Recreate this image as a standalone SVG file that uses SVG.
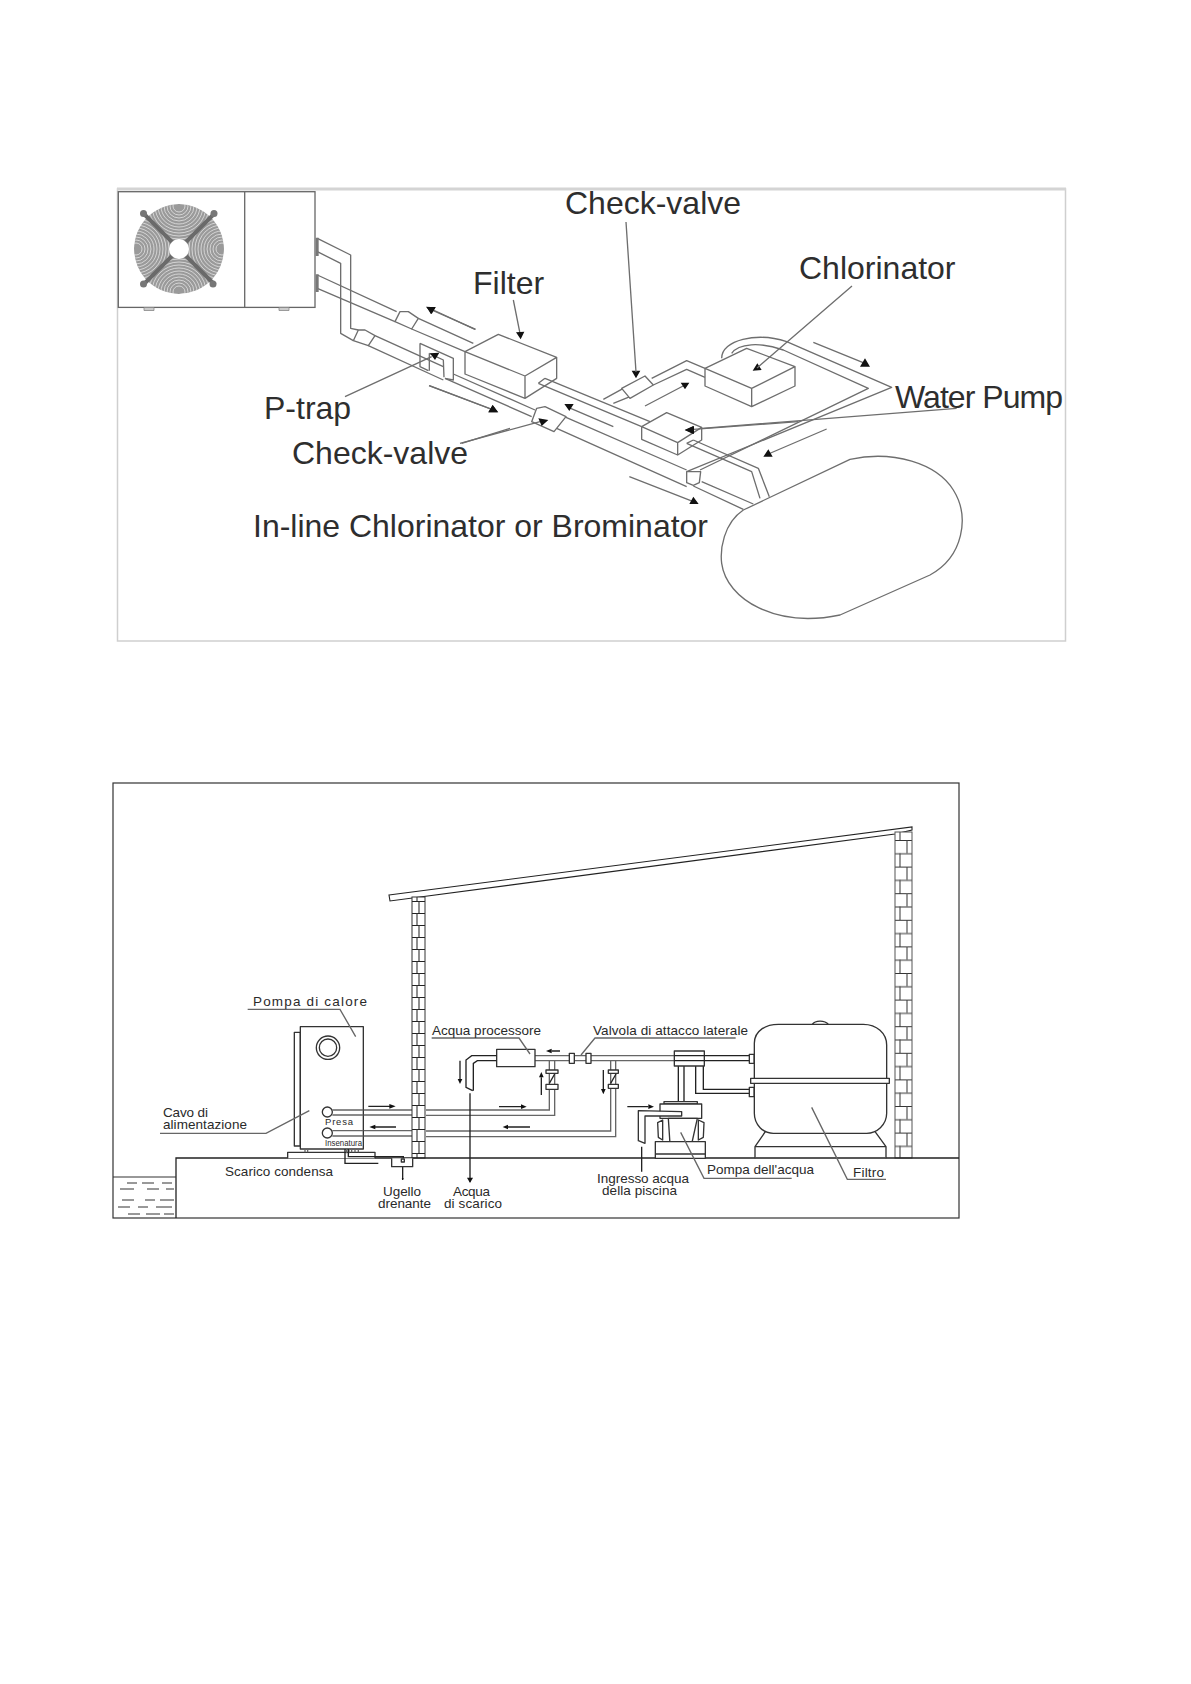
<svg xmlns="http://www.w3.org/2000/svg" width="1191" height="1684" viewBox="0 0 1191 1684">
<style>
.l{fill:none;stroke:#6e6e6e;stroke-width:4;stroke-linejoin:round}
.w{fill:#fff;stroke:#6e6e6e;stroke-width:4;stroke-linejoin:round}
.a{fill:#111;stroke:none}
.d{fill:none;stroke:#222;stroke-width:4}
.g{fill:none;stroke:#666;stroke-width:4}
.h{fill:#fff;stroke:#333;stroke-width:4;stroke-linejoin:round}
.t{font-family:"Liberation Sans",Arial,sans-serif;font-size:32px;fill:#2e2e2e}
.s{font-family:"Liberation Sans",Arial,sans-serif;font-size:13.5px;fill:#2a2a2a}
</style>
<defs>
<marker id="ah" markerWidth="8" markerHeight="8" refX="6" refY="3" orient="auto" markerUnits="userSpaceOnUse"><path d="M0,0L6,3L0,6Z" fill="#111"/></marker>
<pattern id="bl" patternUnits="userSpaceOnUse" x="412" y="901" width="13" height="24"><rect width="13" height="24" fill="#fff"/><path d="M0,.5H13M0,12.500H13" stroke="#222" stroke-width="1.100"/><path d="M7,0V12M5,12V24" stroke="#333" stroke-width="1.100"/></pattern>
<pattern id="br" patternUnits="userSpaceOnUse" x="895" y="840" width="17" height="26.600"><rect width="17" height="26.600" fill="#fff"/><path d="M0,.5H17M0,13.800H17" stroke="#333" stroke-width="1.100"/><path d="M12,0V13.300M5,13.300V26.600" stroke="#444" stroke-width="1.100"/></pattern>
<clipPath id="fc"><circle cx="179" cy="249" r="45"/></clipPath>
<clipPath id="wedge"><path d="M179,249L130,200H228Z"/></clipPath>
<g id="quad" clip-path="url(#wedge)" fill="none" stroke="#eee" stroke-width=".7"><circle cx="179" cy="206" r="6"/><circle cx="179" cy="206" r="9"/><circle cx="179" cy="206" r="12"/><circle cx="179" cy="206" r="15"/><circle cx="179" cy="206" r="18"/><circle cx="179" cy="206" r="21"/><circle cx="179" cy="206" r="24"/><circle cx="179" cy="206" r="27"/><circle cx="179" cy="206" r="30"/><circle cx="179" cy="206" r="33"/><circle cx="179" cy="206" r="36"/></g>
</defs>
<rect width="1191" height="1684" fill="#fff"/>

<g id="frame-top"><rect x="117.500" y="189" width="948" height="452" fill="#fff" stroke="#cfcfcf" stroke-width="1.500"/><path d="M117,189H1066" stroke="#d4d4d4" stroke-width="3"/></g>

<g id="heat-pump-unit">
<rect x="118.300" y="191.700" width="196.700" height="115.700" fill="#fff" stroke="#666" stroke-width="1.300"/>
<path d="M244.700,192V307" stroke="#666" stroke-width="1.300"/>
<path d="M144,307.500h10v3h-10zM279,307.500h10v3h-10z" fill="#ccc" stroke="#888" stroke-width=".8"/>
<g clip-path="url(#fc)"><circle cx="179" cy="249" r="45" fill="#9a9a9a"/><use href="#quad"/><use href="#quad" transform="rotate(90 179 249)"/><use href="#quad" transform="rotate(180 179 249)"/><use href="#quad" transform="rotate(270 179 249)"/></g>
<path d="M143,213L215,285M215,213L143,285" stroke="#6a6a6a" stroke-width="4"/>
<circle cx="143.500" cy="213.500" r="3.500" fill="#777"/><circle cx="214" cy="213.500" r="3.500" fill="#777"/><circle cx="143.500" cy="284" r="3.500" fill="#777"/><circle cx="213" cy="284" r="3.500" fill="#777"/>
<circle cx="179" cy="249" r="10" fill="#fff"/>
</g>

<g id="pipes-top">
<g transform="translate(110 180) scale(.33333)">
<path class="l" d="M622,175L722,225V445L745,450M622,215L692,250V460L730,482"/>
<path class="l" d="M622,285L860,395M622,325L855,425"/>
<path class="l" d="M925,415L1090,490M905,447L1065,515"/>
<path class="w" d="M855,425L870,395L895,395L925,415L905,447Z"/>
<path class="w" d="M730,482L745,450L765,450L795,467L775,497Z"/>
<path class="l" d="M795,467L1000,560M775,497L1000,600"/>
<path d="M617,173h9v55h-9zM617,283h9v53h-9z" fill="#777"/>
</g>
<g transform="translate(400 300) scale(.33333)">
<path class="l" d="M160,222L405,330M135,235L395,350"/>
<path class="l" d="M60,130L160,175V240L135,235M60,130V200L85,212M88,160L130,180L132,232M88,160V212"/>
<path class="l" d="M498,352L860,510M470,385L860,560"/>
<path class="w" d="M395,365L410,325L435,320L498,350L462,395Z"/>
<path class="l" d="M905,545L1060,612M880,558L1030,628"/>
<path class="l" d="M610,298L670,265M640,310L690,290M755,235L860,182L915,205M760,255L860,208L915,232"/>
<path class="w" d="M665,265L735,228L760,255L690,295Z"/>
</g>
</g>

<g id="filter" transform="translate(400 300) scale(.33333)"><path class="w" d="M195,155L295,103L470,172L375,228ZM195,155V222L375,295V228ZM470,172V235L375,295V228Z"/></g>
<g id="inline-chlorinator" transform="translate(400 300) scale(.33333)"><path class="w" d="M725,380L800,338L905,382L833,428ZM725,380V418L833,465V428ZM905,382V420L833,465V428Z"/></g>
<g id="chlorinator" transform="translate(400 300) scale(.33333)"><path class="w" d="M915,205L1040,145L1185,200L1055,265ZM915,205V258L1055,320V265ZM1185,200V258L1055,320V265Z"/></g>
<g id="pool" transform="translate(680 300) scale(.33333)"><path class="w" d="M190,630C130,670 120,750 125,790C140,900 290,985 480,945L750,825C850,770 870,650 820,570C770,490 640,450 510,478Z"/></g>

<g id="connectors-top">
<g transform="translate(400 300) scale(.33333)">
<path class="l" d="M435,235L750,365M415,250L725,380M415,250L435,235"/>
<path class="l" d="M860,430L1055,515L1080,595M880,420L1075,505L1108,590M860,430L880,420"/>
</g>
<g transform="translate(680 300) scale(.33333)">
<path class="l" d="M125,175C125,120 230,95 320,125L635,262L20,515"/>
<path class="l" d="M155,160C175,130 240,125 310,150L565,265L60,510"/>
<path class="w" d="M20,515L20,548L40,556L58,548L62,515Z"/>
</g>
<g transform="translate(110 180) scale(.33333)">
<path class="l" d="M705,650L965,530M958,617L1150,690M1095,448L970,390M1055,790L1200,745"/>
<path class="a" d="M950,381H977L963,403ZM960,520L988,518L975,540ZM1135,697H1165L1148,675Z"/>
</g>
<g transform="translate(400 300) scale(.33333)">
<path class="l" d="M180,430L420,365M340,0L360,100M227,88L95,30M87,257L280,330M640,380L505,322M735,318L855,255M1195,365L880,388M688,530L880,605"/>
<path class="a" d="M415,355L445,360L425,378ZM348,97L373,95L362,118ZM78,20L107,22L95,42ZM265,337H293L278,315ZM493,312H521L508,333ZM695,212H721L708,235ZM842,248H868L855,268ZM1058,212L1085,210L1072,190ZM855,390L882,378V402ZM868,612H896L880,590Z"/>
</g>
<g transform="translate(680 300) scale(.33333)">
<path class="l" d="M400,127L555,190M440,387L265,462M830,325L65,385"/>
<path class="a" d="M540,200H570L555,175ZM250,470H278L265,448ZM14,390L40,378V402Z"/>
</g>
<path d="M626,222L636,372M852,286L757,368" fill="none" stroke="#6e6e6e" stroke-width="1.330"/>
</g>

<g id="labels-top">
<text class="t" x="565" y="214">Check-valve</text>
<text class="t" x="799" y="279">Chlorinator</text>
<text class="t" x="473" y="294">Filter</text>
<text class="t" x="895" y="408" textLength="168">Water Pump</text>
<text class="t" x="264" y="419">P-trap</text>
<text class="t" x="292" y="464">Check-valve</text>
<text class="t" x="253" y="537" textLength="455" lengthAdjust="spacingAndGlyphs">In-line Chlorinator or Brominator</text>
</g>

<g id="frame-bottom"><rect x="113" y="783" width="846" height="435" fill="#fff" stroke="#333" stroke-width="1.200"/></g>

<g id="connectors-bottom">
<g transform="translate(110 980) scale(.33333)">
<path class="g" d="M667,390H907M667,405H907M667,452H907M667,468H907"/>
<path class="d" d="M878,560V600" marker-end="url(#ah)"/>
</g>
<g transform="translate(420 1000) scale(.33333)">
<path class="g" d="M18,330H388V182M18,346H404V182M18,393H572V182M18,410H587V182"/>
<path class="g" d="M345,167H763M345,182H763"/>
<path class="d" d="M150,280V545M665,440V515"/>
<path class="a" d="M141,533H159L150,549Z"/>
<path class="d" d="M420,153H395M364,285V232M120,182V238M550,210V268M237,320H305M330,381H262M622,320H685"/>
<path class="a" d="M378,153L395,146V160ZM364,216L357,232H371ZM120,252L113,237H127ZM550,283L543,267H557ZM320,320L303,313V327ZM248,381L264,374V388ZM702,320L685,313V327Z"/>
</g>
<g transform="translate(110 980) scale(.33333)"><path class="d" d="M775,379H840M858,441H795"/><path class="a" d="M857,379L838,372V386ZM778,441L796,434V448Z"/></g>
</g>

<g id="building">
<path d="M389,895L912,827V830L895,834L390,901Z" fill="#fff" stroke="#222" stroke-width="1.100"/>
<rect x="412" y="897" width="13" height="261" fill="url(#bl)" stroke="#333" stroke-width="1"/>
<rect x="895" y="832" width="17" height="326" fill="url(#br)" stroke="#555" stroke-width="1"/>
<path d="M176,1218V1158H959" fill="none" stroke="#222" stroke-width="1.300"/>
<path d="M113,1177H176" stroke="#333" stroke-width="1.100"/>
<path d="M127,1183h10M142,1183h12M162,1183h10M120,1189h14M147,1189h12M166,1189h8M122,1200h12M145,1200h10M160,1200h14M118,1207h12M138,1207h10M156,1207h16M128,1214h12M146,1214h14M164,1214h10" stroke="#333" stroke-width="1"/>
</g>

<g id="heat-pump" transform="translate(110 980) scale(.33333)">
<path class="h" d="M553,157H571V498H553Z"/>
<rect class="h" x="571" y="140" width="189" height="367"/>
<circle class="h" cx="654" cy="203" r="35"/><circle class="h" cx="654" cy="203" r="26"/>
<circle class="h" cx="652" cy="396" r="15"/><circle class="h" cx="652" cy="459" r="15"/>
<path class="g" d="M667,390H760M667,405H760M667,452H760M667,468H760"/>
<path class="h" d="M533,535V517H795V535"/>
<path class="g" d="M585,507V517M593,507V517M710,507V520M717,507V520M725,507V517M735,507V517M745,507V517"/>
<path class="d" d="M705,507V550H805M715,507V530H880V545"/>
<path class="h" d="M845,535V560H908V535"/>
<rect class="h" x="874" y="537" width="9" height="9"/>
</g>

<g id="water-processor" transform="translate(420 1000) scale(.33333)">
<rect class="h" x="230" y="148" width="115" height="52"/>
<path class="d" d="M230,167H155L138,180V262L158,272M230,182H172L160,190V272"/>
</g>
<g id="valves" transform="translate(420 1000) scale(.33333)">
<rect class="h" x="448" y="160" width="15" height="30"/><rect class="h" x="498" y="160" width="15" height="30"/>
<rect class="h" x="378" y="210" width="36" height="10"/><rect class="h" x="378" y="253" width="36" height="15"/><path class="d" d="M388,250L404,222"/>
<rect class="h" x="565" y="210" width="30" height="10"/><rect class="h" x="565" y="253" width="30" height="12"/><path class="d" d="M572,250L588,222"/>
</g>
<g id="water-pump" transform="translate(640 1000) scale(.33333)">
<path class="d" d="M115,198V305M132,198V305M167,198V280H328M190,198V268H328"/>
<rect class="h" x="103" y="153" width="90" height="45"/><path class="d" d="M103,167H193M103,182H193"/>
<path class="d" d="M193,167H328M193,182H328"/>
<path class="h" d="M72,305H172V312H72Z"/><rect class="h" x="60" y="312" width="125" height="43"/>
<path class="h" d="M85,355L90,432H155L172,355Z"/>
<path class="h" d="M53,368L68,360V420L55,412ZM192,368L175,360V420L190,412Z"/>
<path class="h" d="M46,475V425H196V475ZM46,462H196"/>
<path class="h" d="M-5,332V422L15,430V348H125V335Z"/>
</g>
<g id="filter-tank" transform="translate(640 1000) scale(.33333)">
<path class="h" d="M517,73C525,60 555,60 565,73"/>
<path class="h" d="M378,392L345,440V475M703,392L738,440V475M345,440H738"/>
<path class="h" d="M343,130C343,90 380,73 415,73H670C710,73 740,100 740,135V340C740,375 710,400 680,400H400C370,400 343,375 343,340Z"/>
<rect class="h" x="332" y="235" width="416" height="15"/>
<rect class="h" x="328" y="163" width="14" height="27"/><rect class="h" x="328" y="262" width="14" height="28"/>
</g>

<g id="leaders-bottom">
<g transform="translate(110 980) scale(.33333)"><path class="g" d="M413,88H690L737,170M150,460H468L598,392"/></g>
<g transform="translate(420 1000) scale(.33333)"><path class="g" d="M35,114H297L330,162M947,114H525L483,165"/></g>
<g transform="translate(640 1000) scale(.33333)"><path class="g" d="M122,397L192,535H455M515,322L622,538H738"/></g>
</g>

<g id="labels-bottom">
<text class="s" x="253" y="1006" textLength="114">Pompa di calore</text>
<text class="s" x="163" y="1117" textLength="45">Cavo di</text>
<text class="s" x="163" y="1129" textLength="84">alimentazione</text>
<text class="s" x="325" y="1125" style="font-size:9.500px" textLength="28">Presa</text>
<text class="s" x="325" y="1146" style="font-size:9px" textLength="37" lengthAdjust="spacingAndGlyphs">Insenatura</text>
<text class="s" x="225" y="1176" textLength="108">Scarico condensa</text>
<text class="s" x="383" y="1196" textLength="38">Ugello</text>
<text class="s" x="378" y="1208" textLength="53">drenante</text>
<text class="s" x="432" y="1035" textLength="109">Acqua processore</text>
<text class="s" x="593" y="1035" textLength="155">Valvola di attacco laterale</text>
<text class="s" x="453" y="1196" textLength="37">Acqua</text>
<text class="s" x="444" y="1208" textLength="58">di scarico</text>
<text class="s" x="597" y="1183" textLength="92">Ingresso acqua</text>
<text class="s" x="602" y="1195" textLength="75">della piscina</text>
<text class="s" x="707" y="1174" textLength="107">Pompa dell'acqua</text>
<text class="s" x="853" y="1177" textLength="31">Filtro</text>
</g>
</svg>
